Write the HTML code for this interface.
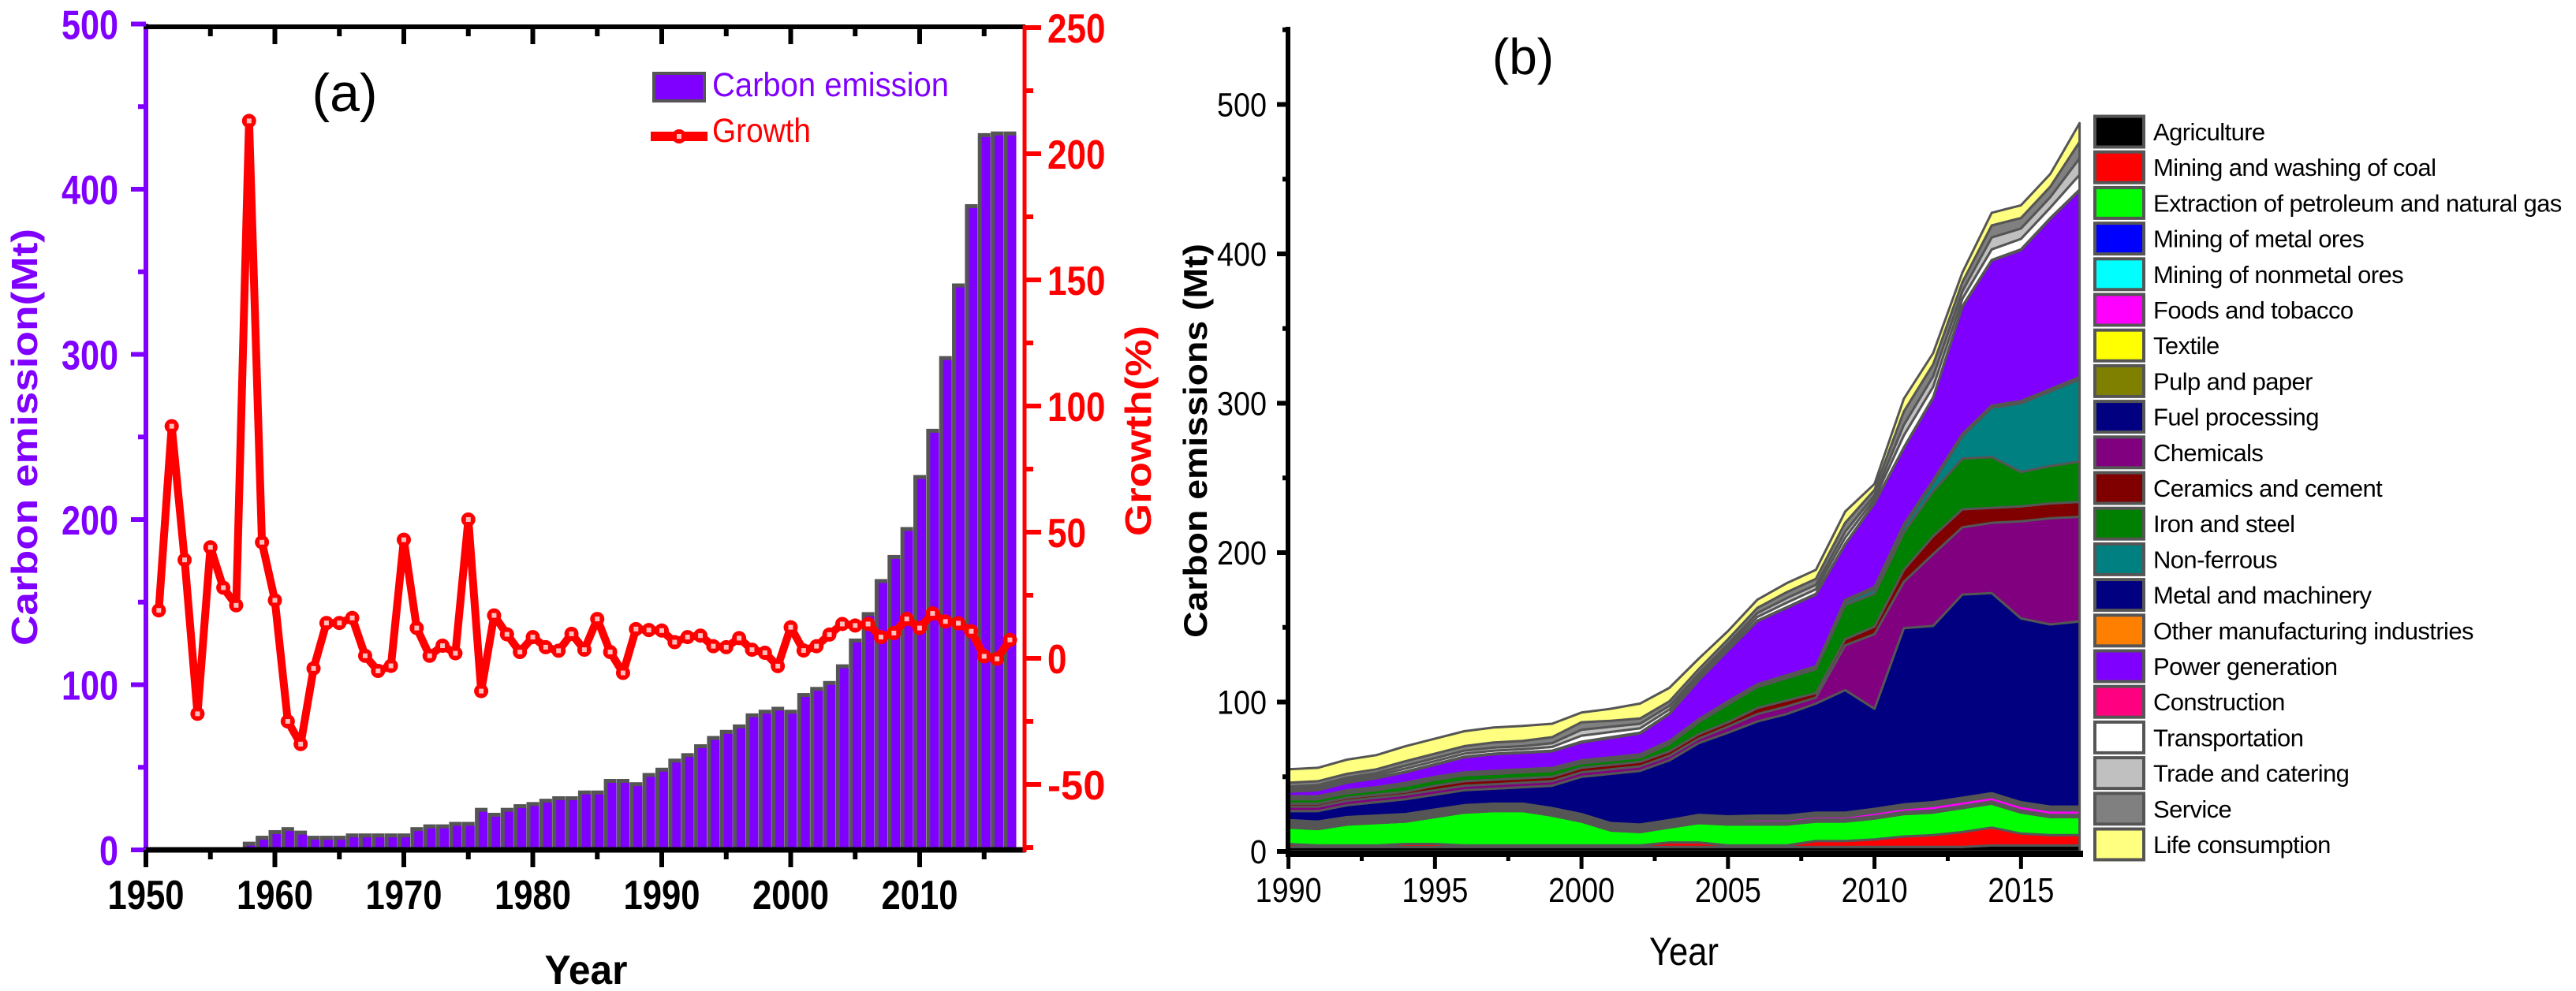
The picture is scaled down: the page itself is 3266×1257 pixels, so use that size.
<!DOCTYPE html>
<html><head><meta charset="utf-8"><style>
html,body{margin:0;padding:0;background:#fff;}
svg{display:block;font-family:"Liberation Sans",Arial,sans-serif;}
</style></head><body>
<svg id="fig" width="3266" height="1257" viewBox="0 0 3266 1257" xmlns="http://www.w3.org/2000/svg">
<g id="pa"></g>
<g id="pb"></g>
</svg>
<script>
// ---------- Panel (a) data ----------
const barYears = [];
for (let y = 1950; y <= 2017; y++) barYears.push(y);
const emissionValues = [0,0,0,0,0,0,0,0,4,7.6,11,12.8,10.7,7.6,7.6,7.6,9,9,9,9,9,12.8,14.5,14.5,16,16,24.5,21.5,24.5,26.7,28,30,31.5,31.5,35,35,42,42,40,45.6,48.8,54.3,57.6,63,68,71.7,75,81.7,83.9,85.7,83.9,94,97.7,101.3,111.4,127,143,163,177.6,194.5,226,254,298,342,390,433,434,434];
const growthYears = barYears.slice(1);
const growthValues = [19,92,39,-22,44,28,21,213,46,23,-25,-34,-4,14,14,16,1,-5,-3,47,12,1,5,2,55,-13,17,9.5,2.5,8.4,4.4,3,9.7,3.4,15.6,2.5,-5.8,11.6,11.2,11,6.4,8.4,9,4.8,4.4,8,3.4,2.2,-3.1,12.3,3.1,4.8,9.4,13.6,13,13.6,8.4,10,15.6,12,17.8,14.6,13.9,10.7,0.8,-0.2,7.3];
const leftTicks = [0,100,200,300,400,500];
const rightTicks = [-50,0,50,100,150,200,250];
const xTicksA = [1950,1960,1970,1980,1990,2000,2010];

// ---------- Panel (b) data ----------
const yearsB = [];
for (let y = 1990; y <= 2017; y++) yearsB.push(y);
const seriesNames = ["Agriculture","Mining and washing of coal","Extraction of petroleum and natural gas","Mining of metal ores","Mining of nonmetal ores","Foods and tobacco","Textile","Pulp and paper","Fuel processing","Chemicals","Ceramics and cement","Iron and steel","Non-ferrous","Metal and machinery","Other manufacturing industries","Power generation","Construction","Transportation","Trade and catering","Service","Life consumption"];
const seriesColors = ["#000000","#ff0000","#00ff00","#0000ff","#00ffff","#ff00ff","#ffff00","#808000","#000080","#800080","#800000","#008000","#008080","#000080","#ff8000","#8000ff","#ff0080","#ffffff","#c0c0c0","#808080","#ffff80"];
const agriculture = [3,3,3,3,3,3,3,3,3,3,3,3,3,3,3,3,3,3,3,3,3,3,3,3,4,4,4,4];
const coal = [2,1,1,1,2,2,1,1,1,1,1,1,1,3,3,1,1,1,4,4,5,7,8,10,12,8,7,7];
const petroleum = [11,11,14,15,15,18,22,23,23,20,16,10,9,10,13,14,14,14,13,13,14,15,15,16,16,14,12,12];
const metalOres = [0.5,0.5,0.5,0.5,0.5,0.5,0.5,0.5,0.5,0.5,0.5,0.5,0.5,0.5,0.5,0.5,0.5,0.5,0.5,0.5,0.5,0.5,0.5,0.5,0.5,0.5,0.5,0.5];
const nonmetalOres = [1,1,1,1,1,1,1,1,1,1,1,1,1,1,1,1,1,1,1,1,1,1,1,1,1,1,1,1];
const foods = [1,1,1,1,1,1,1,1,1,1,1,1,1,1,1.5,1.5,2,2,2,2,2.5,2.5,3,3,3,3,3,3];
const textile = [1,1,1,1,1,1,1,1,1,1,1,1,1,1,1,1,1,1,1,1,1,1,1,1,1,1,1,1];
const pulp = [1.5,1.5,1.5,1.5,1.5,1.5,1.5,1.5,1.5,1.5,1.5,1.5,1.5,1.5,1.5,1.5,1.5,1.5,1.5,1.5,1.5,1.5,1.5,1.5,1.5,1.5,1.5,1.5];
const fuel = [6,7,8,9,10,10,10,10,11,15,25,33,36,40,48,56,63,68,73,82,67,118,118,136,134,123,122,124];
const chemicals = [3,3,3,3,3,3,3,3,3,3,3,3,3,3,3,4,5,5,4,30,50,31,48,45,47,65,71,70];
const ceramics = [2,2,2,2,2,3,3,3,3,3,3,3,3,3,3,3,4,4,3,4,5,8,12,12,10,10,10,10];
const iron = [3,3,3,3,4,4,4,4,4,4,3,3,3,5,8,12,14,15,16,23,22,25,30,34,34,23,25,27];
const nonFerrous = [0.5,0.5,0.5,0.5,0.5,0.5,0.5,0.5,0.5,0.5,0.5,0.5,0.5,0.5,0.5,0.5,0.5,0.5,0.5,2,3,4,6,15,33,46,50,55];
const metalMachinery = [1,1,1,1,1,1,1,1,1,1,1,1,1,1,1,1,1,1,1,1,1,1,1,1,1,1,1,1];
const otherManufacturing = [0.5,0.5,0.5,0.5,0.5,0.5,0.5,0.5,0.5,0.5,0.5,0.5,0.5,0.5,0.5,0.5,0.5,0.5,0.5,0.5,0.5,0.5,0.5,0.5,0.5,0.5,0.5,0.5];
const power = [3,4,5,6,7,8,10,11,11,11,12,13,14,18,26,34,42,45,48,37,56,51,55,85,97,101,114,125];
const construction = [0.5,0.5,0.5,0.5,0.5,0.5,0.5,0.5,0.5,0.5,0.5,0.5,0.5,0.5,0.5,0.5,0.5,0.5,0.5,0.5,0.5,0.5,0.5,0.5,0.5,0.5,0.5,0.5];
const transportation = [1.5,1.5,1.5,1.5,2,2,2,2,2,2.5,4,3.5,3,2.5,2,2,2.5,3,3,4,2.5,8,7,5,7,7,7,10];
const trade = [1.5,1.5,1.5,1.5,2,2,2,2,2,2.5,4,3.5,3,2.5,2,2,2.5,3,3,4,2.5,7,7,5,8,7,7,11];
const service = [2.5,2.5,2.5,2.5,3,3,3,3.5,3.5,4,5,4,3.5,3,3,3,3.5,4,4,6,3.5,9,8,6,8,7,7,11];
const lifeConsumption = [9,9,9.5,9.5,10,10,10,10,10,9,6.5,8,10,9,7,5.5,5.5,6,6,7.5,4,8.5,7.5,6.5,8.5,8.5,8.5,12.5];
const seriesValues = [agriculture,coal,petroleum,metalOres,nonmetalOres,foods,textile,pulp,fuel,chemicals,ceramics,iron,nonFerrous,metalMachinery,otherManufacturing,power,construction,transportation,trade,service,lifeConsumption];
const yTicksB = [0,100,200,300,400,500];
const xTicksB = [1990,1995,2000,2005,2010,2015];

const NS = "http://www.w3.org/2000/svg";
function el(parent, tag, attrs, text) {
  const e = document.createElementNS(NS, tag);
  for (const k in attrs) e.setAttribute(k, attrs[k]);
  if (text !== undefined) e.textContent = text;
  parent.appendChild(e);
  return e;
}

// ---------- Panel (a) ----------
const pa = document.getElementById('pa');
const xA = yr => 185 + 16.35 * (yr - 1950);
const yA = v => 1078 - 2.095 * v;
const yG = g => 835 - 3.2 * g;

barYears.forEach((yr, i) => {
  const v = emissionValues[i];
  if (v <= 0) return;
  const cx = xA(yr);
  const top = yA(v);
  const g = el(pa, 'g', {});
  
  
  el(g, 'rect', {x: cx - 8, y: top - 2, width: 16, height: 1078 - top + 2, fill: '#555'});
  el(g, 'rect', {x: cx - 3, y: top + 3, width: 11, height: Math.max(0, 1078 - top - 3), fill: '#8000ff'});
});

const gpts = growthYears.map((yr, i) => xA(yr).toFixed(1) + ',' + yG(growthValues[i]).toFixed(1)).join(' ');
const gline = el(pa, 'polyline', {points: gpts, fill: 'none', stroke: '#ff0000', 'stroke-width': 10, 'stroke-linejoin': 'round'});


growthYears.forEach((yr, i) => {
  const m = el(pa, 'g', {});
  
  
  const cx = xA(yr), cy = yG(growthValues[i]);
  el(m, 'circle', {cx: cx, cy: cy, r: 9, fill: '#ff0000'});
  el(m, 'rect', {x: cx - 3, y: cy - 3, width: 6, height: 6, fill: '#ffc0c0'});
});

// axes a
const axL = el(pa, 'line', {x1: 185, y1: 30, x2: 185, y2: 1080, stroke: '#8000ff', 'stroke-width': 6});


const axT = el(pa, 'line', {x1: 182, y1: 34, x2: 1300, y2: 34, stroke: '#000', 'stroke-width': 6});


const axB = el(pa, 'line', {x1: 182, y1: 1078, x2: 1300, y2: 1078, stroke: '#000', 'stroke-width': 7});


const axR = el(pa, 'line', {x1: 1299, y1: 32, x2: 1299, y2: 1081, stroke: '#ff0000', 'stroke-width': 5});



for (let v = 0; v <= 500; v += 50) {
  const major = v % 100 === 0;
  el(pa, 'line', {x1: major ? 166 : 175, y1: yA(v), x2: 185, y2: yA(v), stroke: '#8000ff', 'stroke-width': 6});
}
leftTicks.forEach(v => {
  const t = el(pa, 'text', {x: 150, y: yA(v) + 19, 'text-anchor': 'end', 'font-size': 52, 'font-weight': 'bold', fill: '#8000ff', textLength: String(v).length * 24, lengthAdjust: 'spacingAndGlyphs'}, String(v));
  
  
});
for (let g = -75; g <= 250; g += 25) {
  const major = g % 50 === 0;
  el(pa, 'line', {x1: 1299, y1: yG(g), x2: major ? 1320 : 1310, y2: yG(g), stroke: '#ff0000', 'stroke-width': 6});
}
rightTicks.forEach(g => {
  const s = String(g).replace('-', '-');
  const t = el(pa, 'text', {x: 1328, y: yG(g) + 19, 'font-size': 52, 'font-weight': 'bold', fill: '#ff0000', textLength: s.length * 24.5, lengthAdjust: 'spacingAndGlyphs'}, s);
  
  
});
for (let yr = 1950; yr <= 2015; yr += 5) {
  const major = yr % 10 === 0;
  el(pa, 'line', {x1: xA(yr), y1: 1078, x2: xA(yr), y2: major ? 1100 : 1090, stroke: '#000', 'stroke-width': 6});
  if (yr > 1950) el(pa, 'line', {x1: xA(yr), y1: 34, x2: xA(yr), y2: major ? 56 : 46, stroke: '#000', 'stroke-width': 6});
}
xTicksA.forEach(yr => {
  const t = el(pa, 'text', {x: xA(yr), y: 1153, 'text-anchor': 'middle', 'font-size': 52, 'font-weight': 'bold', fill: '#000', textLength: 97, lengthAdjust: 'spacingAndGlyphs'}, String(yr));
  
  
});
const xta = el(pa, 'text', {x: 743, y: 1248, 'text-anchor': 'middle', 'font-size': 52, 'font-weight': 'bold', fill: '#000', textLength: 105, lengthAdjust: 'spacingAndGlyphs'}, 'Year');


const yta = el(pa, 'text', {x: 0, y: 0, transform: 'translate(47,819) rotate(-90)', 'font-size': 46, 'font-weight': 'bold', fill: '#8000ff', textLength: 529, lengthAdjust: 'spacingAndGlyphs'}, 'Carbon emission(Mt)');


const gta = el(pa, 'text', {x: 0, y: 0, transform: 'translate(1459,680) rotate(-90)', 'font-size': 46, 'font-weight': 'bold', fill: '#ff0000', textLength: 267, lengthAdjust: 'spacingAndGlyphs'}, 'Growth(%)');


const lblA = el(pa, 'text', {x: 437, y: 141, 'text-anchor': 'middle', 'font-size': 68, fill: '#000'}, '(a)');



// legend a
const la = el(pa, 'g', {});


const le1 = el(la, 'g', {});


el(le1, 'rect', {x: 829, y: 93, width: 64, height: 35, fill: '#8000ff', stroke: '#555', 'stroke-width': 4});
el(le1, 'text', {x: 903, y: 122, 'font-size': 43, fill: '#8000ff', textLength: 300, lengthAdjust: 'spacingAndGlyphs'}, 'Carbon emission');
const le2 = el(la, 'g', {});


el(le2, 'line', {x1: 825, y1: 173, x2: 897, y2: 173, stroke: '#ff0000', 'stroke-width': 12});
el(le2, 'circle', {cx: 861, cy: 173, r: 9, fill: '#ff0000'});
el(le2, 'rect', {x: 858, y: 170, width: 6, height: 6, fill: '#ffc0c0'});
el(le2, 'text', {x: 903, y: 180, 'font-size': 43, fill: '#ff0000', textLength: 125, lengthAdjust: 'spacingAndGlyphs'}, 'Growth');

// ---------- Panel (b) ----------
const pb = document.getElementById('pb');
const xB = yr => 1633.6 + 37.15 * (yr - 1990);
const yB = v => 1080 - 1.895 * v;
const cum = yearsB.map(() => 0);
seriesValues.forEach((vals, s) => {
  const lower = cum.slice();
  vals.forEach((v, i) => { cum[i] += v; });
  const top = yearsB.map((yr, i) => xB(yr).toFixed(1) + ',' + yB(cum[i]).toFixed(1));
  const bot = yearsB.map((yr, i) => xB(yr).toFixed(1) + ',' + yB(lower[i]).toFixed(1)).reverse();
  const p = el(pb, 'polygon', {points: top.concat(bot).join(' '), fill: seriesColors[s], stroke: '#555', 'stroke-width': 3, 'stroke-linejoin': 'round'});
  
  
});

const bL = el(pb, 'line', {x1: 1633, y1: 34, x2: 1633, y2: 1087, stroke: '#000', 'stroke-width': 6});


const bB = el(pb, 'line', {x1: 1630, y1: 1083, x2: 2641, y2: 1083, stroke: '#000', 'stroke-width': 8});


for (let v = 0; v <= 550; v += 50) {
  const major = v % 100 === 0;
  el(pb, 'line', {x1: major ? 1619 : 1626, y1: yB(v), x2: 1633, y2: yB(v), stroke: '#000', 'stroke-width': 6});
}
yTicksB.forEach(v => {
  const t = el(pb, 'text', {x: 1606, y: yB(v) + 15, 'text-anchor': 'end', 'font-size': 43, fill: '#000', textLength: String(v).length * 21, lengthAdjust: 'spacingAndGlyphs'}, String(v));
  
  
});
for (let yr = 1990; yr <= 2017; yr += 2.5) {
  const major = yr % 5 === 0;
  el(pb, 'line', {x1: xB(yr), y1: 1083, x2: xB(yr), y2: major ? 1102 : 1092, stroke: '#000', 'stroke-width': 5});
}
xTicksB.forEach(yr => {
  const t = el(pb, 'text', {x: xB(yr), y: 1144, 'text-anchor': 'middle', 'font-size': 44, fill: '#000', textLength: 84, lengthAdjust: 'spacingAndGlyphs'}, String(yr));
  
  
});
const xtb = el(pb, 'text', {x: 2135, y: 1224, 'text-anchor': 'middle', 'font-size': 50, fill: '#000', textLength: 88, lengthAdjust: 'spacingAndGlyphs'}, 'Year');


const ytb = el(pb, 'text', {x: 0, y: 0, transform: 'translate(1530,809) rotate(-90)', 'font-size': 42, 'font-weight': 'bold', fill: '#000', textLength: 500, lengthAdjust: 'spacingAndGlyphs'}, 'Carbon emissions (Mt)');


const lblB = el(pb, 'text', {x: 1931, y: 94, 'text-anchor': 'middle', 'font-size': 64, fill: '#000'}, '(b)');



// legend b
const lb = el(pb, 'g', {});


seriesNames.forEach((name, i) => {
  const top = 146 + i * 45.2;
  const g = el(lb, 'g', {});
  
  
  el(g, 'rect', {x: 2656, y: top + 1.5, width: 62, height: 39, fill: seriesColors[i], stroke: '#555', 'stroke-width': 4});
  el(g, 'text', {x: 2730, y: top + 32, 'font-size': 31, fill: '#000', 'letter-spacing': '-0.6'}, name);
});
</script>
</body></html>
